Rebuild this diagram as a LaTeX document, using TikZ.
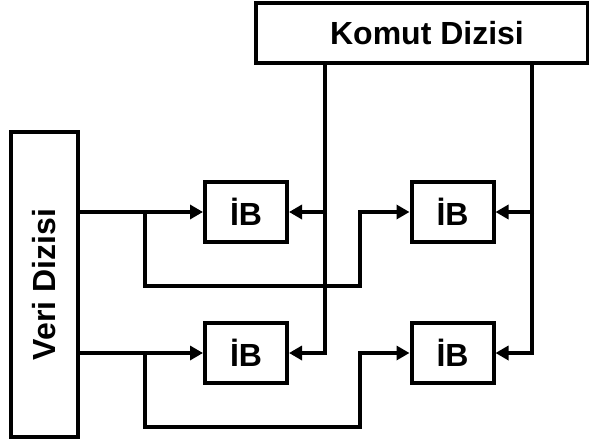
\documentclass[tikz,border=0pt]{standalone}
\usepackage{fontspec}
\setmainfont{Liberation Sans}
\usetikzlibrary{arrows.meta}
\begin{document}
\begin{tikzpicture}[x=1pt,y=-1pt,
  box/.style={draw,line width=4pt,inner sep=0pt,font=\fontsize{32}{38}\selectfont\bfseries},
  ibbox/.style={box,minimum width=82pt,minimum height=60pt},
  wire/.style={line width=4pt},
  arr/.style={wire,-{Triangle[length=13pt,width=14pt]}}]
\useasboundingbox (0,0) rectangle (589,441);
\node[box,minimum width=332pt,minimum height=60pt] (komut) at (422,33) {\hspace*{10pt}Komut Dizisi};
\node[box,minimum width=67pt,minimum height=305pt] (veri) at (44.5,284.5) {};
\node[font=\fontsize{32}{38}\selectfont\bfseries,rotate=90] (veritext) at (44.5,284.5) {Veri Dizisi};
\node[ibbox] (ib1) at (246,212) {İB};
\node[ibbox] (ib2) at (452.5,212) {İB};
\node[ibbox] (ib3) at (246,353) {İB};
\node[ibbox] (ib4) at (452.5,353) {İB};
% Veri to left column
\coordinate (b1) at (145,212);
\coordinate (b3) at (145,353);
\coordinate (l1) at (360,286);
\coordinate (l3) at (360,427);
\draw[arr] (veri.east |- ib1.west) -- (ib1.west);
\draw[arr] (veri.east |- ib3.west) -- (ib3.west);
\draw[arr] (b1) |- (l1) |- (ib2.west);
\draw[arr] (b3) |- (l3) |- (ib4.west);
% Komut to IBs
\coordinate (kx1) at (325,0);
\coordinate (kx2) at (532,0);
\coordinate (v1) at (kx1 |- ib1.east);
\coordinate (v3) at (kx1 |- ib3.east);
\coordinate (v2) at (kx2 |- ib2.east);
\coordinate (v4) at (kx2 |- ib4.east);
\draw[arr] (komut.south -| kx1) -- (v3) -- (ib3.east);
\draw[arr] ([xshift=2pt]v1) -- (ib1.east);
\draw[arr] (komut.south -| kx2) -- (v4) -- (ib4.east);
\draw[arr] ([xshift=2pt]v2) -- (ib2.east);
\end{tikzpicture}
\end{document}
